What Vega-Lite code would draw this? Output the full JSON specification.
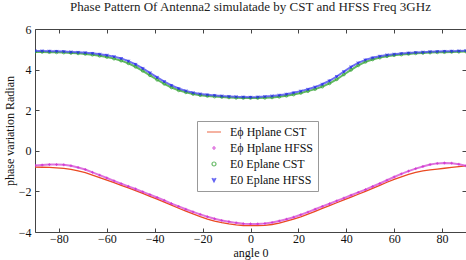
{
"$schema":"https://vega.github.io/schema/vega-lite/v6.json",
"width":431,"height":203,"autosize":"none",
"padding":{"left":35,"top":29,"right":0,"bottom":28},
"background":"white",
"title":{"text":"Phase Pattern Of  Antenna2 simulatade  by CST and HFSS Freq 3GHz","font":"Liberation Serif","fontSize":13,"fontWeight":"normal","color":"#222","offset":9},
"datasets":{
"hc":[{"a":-90,"v":-0.80},{"a":-87,"v":-0.81},{"a":-84,"v":-0.82},{"a":-81,"v":-0.84},{"a":-78,"v":-0.87},{"a":-75,"v":-0.92},{"a":-72,"v":-0.99},{"a":-69,"v":-1.08},{"a":-66,"v":-1.20},{"a":-63,"v":-1.32},{"a":-60,"v":-1.45},{"a":-57,"v":-1.57},{"a":-54,"v":-1.70},{"a":-51,"v":-1.83},{"a":-48,"v":-1.96},{"a":-45,"v":-2.10},{"a":-42,"v":-2.24},{"a":-39,"v":-2.38},{"a":-36,"v":-2.53},{"a":-33,"v":-2.68},{"a":-30,"v":-2.83},{"a":-27,"v":-2.97},{"a":-24,"v":-3.11},{"a":-21,"v":-3.24},{"a":-18,"v":-3.36},{"a":-15,"v":-3.46},{"a":-12,"v":-3.54},{"a":-9,"v":-3.60},{"a":-6,"v":-3.65},{"a":-3,"v":-3.68},{"a":0,"v":-3.69},{"a":3,"v":-3.69},{"a":6,"v":-3.67},{"a":9,"v":-3.63},{"a":12,"v":-3.56},{"a":15,"v":-3.47},{"a":18,"v":-3.37},{"a":21,"v":-3.25},{"a":24,"v":-3.12},{"a":27,"v":-2.98},{"a":30,"v":-2.84},{"a":33,"v":-2.70},{"a":36,"v":-2.56},{"a":39,"v":-2.42},{"a":42,"v":-2.28},{"a":45,"v":-2.14},{"a":48,"v":-2.00},{"a":51,"v":-1.85},{"a":54,"v":-1.70},{"a":57,"v":-1.55},{"a":60,"v":-1.41},{"a":63,"v":-1.28},{"a":66,"v":-1.16},{"a":69,"v":-1.06},{"a":72,"v":-0.99},{"a":75,"v":-0.94},{"a":78,"v":-0.90},{"a":81,"v":-0.86},{"a":84,"v":-0.82},{"a":87,"v":-0.78},{"a":90,"v":-0.74}],
"pts":[
{"s":"Eϕ Hplane HFSS","a":-90,"v":-0.72},{"s":"Eϕ Hplane HFSS","a":-87,"v":-0.70},{"s":"Eϕ Hplane HFSS","a":-84,"v":-0.68},{"s":"Eϕ Hplane HFSS","a":-81,"v":-0.68},{"s":"Eϕ Hplane HFSS","a":-78,"v":-0.69},{"s":"Eϕ Hplane HFSS","a":-75,"v":-0.74},{"s":"Eϕ Hplane HFSS","a":-72,"v":-0.82},{"s":"Eϕ Hplane HFSS","a":-69,"v":-0.92},{"s":"Eϕ Hplane HFSS","a":-66,"v":-1.06},{"s":"Eϕ Hplane HFSS","a":-63,"v":-1.20},{"s":"Eϕ Hplane HFSS","a":-60,"v":-1.34},{"s":"Eϕ Hplane HFSS","a":-57,"v":-1.48},{"s":"Eϕ Hplane HFSS","a":-54,"v":-1.62},{"s":"Eϕ Hplane HFSS","a":-51,"v":-1.75},{"s":"Eϕ Hplane HFSS","a":-48,"v":-1.88},{"s":"Eϕ Hplane HFSS","a":-45,"v":-2.02},{"s":"Eϕ Hplane HFSS","a":-42,"v":-2.16},{"s":"Eϕ Hplane HFSS","a":-39,"v":-2.30},{"s":"Eϕ Hplane HFSS","a":-36,"v":-2.44},{"s":"Eϕ Hplane HFSS","a":-33,"v":-2.60},{"s":"Eϕ Hplane HFSS","a":-30,"v":-2.74},{"s":"Eϕ Hplane HFSS","a":-27,"v":-2.88},{"s":"Eϕ Hplane HFSS","a":-24,"v":-3.01},{"s":"Eϕ Hplane HFSS","a":-21,"v":-3.13},{"s":"Eϕ Hplane HFSS","a":-18,"v":-3.25},{"s":"Eϕ Hplane HFSS","a":-15,"v":-3.35},{"s":"Eϕ Hplane HFSS","a":-12,"v":-3.43},{"s":"Eϕ Hplane HFSS","a":-9,"v":-3.49},{"s":"Eϕ Hplane HFSS","a":-6,"v":-3.55},{"s":"Eϕ Hplane HFSS","a":-3,"v":-3.59},{"s":"Eϕ Hplane HFSS","a":0,"v":-3.60},{"s":"Eϕ Hplane HFSS","a":3,"v":-3.60},{"s":"Eϕ Hplane HFSS","a":6,"v":-3.58},{"s":"Eϕ Hplane HFSS","a":9,"v":-3.53},{"s":"Eϕ Hplane HFSS","a":12,"v":-3.46},{"s":"Eϕ Hplane HFSS","a":15,"v":-3.37},{"s":"Eϕ Hplane HFSS","a":18,"v":-3.27},{"s":"Eϕ Hplane HFSS","a":21,"v":-3.15},{"s":"Eϕ Hplane HFSS","a":24,"v":-3.02},{"s":"Eϕ Hplane HFSS","a":27,"v":-2.88},{"s":"Eϕ Hplane HFSS","a":30,"v":-2.74},{"s":"Eϕ Hplane HFSS","a":33,"v":-2.61},{"s":"Eϕ Hplane HFSS","a":36,"v":-2.47},{"s":"Eϕ Hplane HFSS","a":39,"v":-2.33},{"s":"Eϕ Hplane HFSS","a":42,"v":-2.19},{"s":"Eϕ Hplane HFSS","a":45,"v":-2.05},{"s":"Eϕ Hplane HFSS","a":48,"v":-1.91},{"s":"Eϕ Hplane HFSS","a":51,"v":-1.76},{"s":"Eϕ Hplane HFSS","a":54,"v":-1.61},{"s":"Eϕ Hplane HFSS","a":57,"v":-1.45},{"s":"Eϕ Hplane HFSS","a":60,"v":-1.29},{"s":"Eϕ Hplane HFSS","a":63,"v":-1.14},{"s":"Eϕ Hplane HFSS","a":66,"v":-1.00},{"s":"Eϕ Hplane HFSS","a":69,"v":-0.88},{"s":"Eϕ Hplane HFSS","a":72,"v":-0.77},{"s":"Eϕ Hplane HFSS","a":75,"v":-0.68},{"s":"Eϕ Hplane HFSS","a":78,"v":-0.62},{"s":"Eϕ Hplane HFSS","a":81,"v":-0.60},{"s":"Eϕ Hplane HFSS","a":84,"v":-0.61},{"s":"Eϕ Hplane HFSS","a":87,"v":-0.66},{"s":"Eϕ Hplane HFSS","a":90,"v":-0.74},
{"s":"E0 Eplane CST","a":-90,"v":4.87},{"s":"E0 Eplane CST","a":-87,"v":4.87},{"s":"E0 Eplane CST","a":-84,"v":4.86},{"s":"E0 Eplane CST","a":-81,"v":4.85},{"s":"E0 Eplane CST","a":-78,"v":4.84},{"s":"E0 Eplane CST","a":-75,"v":4.82},{"s":"E0 Eplane CST","a":-72,"v":4.80},{"s":"E0 Eplane CST","a":-69,"v":4.77},{"s":"E0 Eplane CST","a":-66,"v":4.73},{"s":"E0 Eplane CST","a":-63,"v":4.68},{"s":"E0 Eplane CST","a":-60,"v":4.62},{"s":"E0 Eplane CST","a":-57,"v":4.54},{"s":"E0 Eplane CST","a":-54,"v":4.44},{"s":"E0 Eplane CST","a":-51,"v":4.31},{"s":"E0 Eplane CST","a":-48,"v":4.14},{"s":"E0 Eplane CST","a":-45,"v":3.94},{"s":"E0 Eplane CST","a":-42,"v":3.72},{"s":"E0 Eplane CST","a":-39,"v":3.50},{"s":"E0 Eplane CST","a":-36,"v":3.30},{"s":"E0 Eplane CST","a":-33,"v":3.12},{"s":"E0 Eplane CST","a":-30,"v":2.98},{"s":"E0 Eplane CST","a":-27,"v":2.88},{"s":"E0 Eplane CST","a":-24,"v":2.80},{"s":"E0 Eplane CST","a":-21,"v":2.74},{"s":"E0 Eplane CST","a":-18,"v":2.70},{"s":"E0 Eplane CST","a":-15,"v":2.67},{"s":"E0 Eplane CST","a":-12,"v":2.65},{"s":"E0 Eplane CST","a":-9,"v":2.63},{"s":"E0 Eplane CST","a":-6,"v":2.61},{"s":"E0 Eplane CST","a":-3,"v":2.60},{"s":"E0 Eplane CST","a":0,"v":2.60},{"s":"E0 Eplane CST","a":3,"v":2.60},{"s":"E0 Eplane CST","a":6,"v":2.61},{"s":"E0 Eplane CST","a":9,"v":2.63},{"s":"E0 Eplane CST","a":12,"v":2.66},{"s":"E0 Eplane CST","a":15,"v":2.71},{"s":"E0 Eplane CST","a":18,"v":2.77},{"s":"E0 Eplane CST","a":21,"v":2.85},{"s":"E0 Eplane CST","a":24,"v":2.94},{"s":"E0 Eplane CST","a":27,"v":3.04},{"s":"E0 Eplane CST","a":30,"v":3.16},{"s":"E0 Eplane CST","a":33,"v":3.32},{"s":"E0 Eplane CST","a":36,"v":3.52},{"s":"E0 Eplane CST","a":39,"v":3.76},{"s":"E0 Eplane CST","a":42,"v":3.99},{"s":"E0 Eplane CST","a":45,"v":4.21},{"s":"E0 Eplane CST","a":48,"v":4.38},{"s":"E0 Eplane CST","a":51,"v":4.50},{"s":"E0 Eplane CST","a":54,"v":4.59},{"s":"E0 Eplane CST","a":57,"v":4.66},{"s":"E0 Eplane CST","a":60,"v":4.71},{"s":"E0 Eplane CST","a":63,"v":4.74},{"s":"E0 Eplane CST","a":66,"v":4.77},{"s":"E0 Eplane CST","a":69,"v":4.80},{"s":"E0 Eplane CST","a":72,"v":4.82},{"s":"E0 Eplane CST","a":75,"v":4.84},{"s":"E0 Eplane CST","a":78,"v":4.85},{"s":"E0 Eplane CST","a":81,"v":4.86},{"s":"E0 Eplane CST","a":84,"v":4.87},{"s":"E0 Eplane CST","a":87,"v":4.88},{"s":"E0 Eplane CST","a":90,"v":4.89},
{"s":"E0 Eplane HFSS","a":-90,"v":4.92},{"s":"E0 Eplane HFSS","a":-87,"v":4.92},{"s":"E0 Eplane HFSS","a":-84,"v":4.91},{"s":"E0 Eplane HFSS","a":-81,"v":4.90},{"s":"E0 Eplane HFSS","a":-78,"v":4.89},{"s":"E0 Eplane HFSS","a":-75,"v":4.87},{"s":"E0 Eplane HFSS","a":-72,"v":4.85},{"s":"E0 Eplane HFSS","a":-69,"v":4.83},{"s":"E0 Eplane HFSS","a":-66,"v":4.80},{"s":"E0 Eplane HFSS","a":-63,"v":4.76},{"s":"E0 Eplane HFSS","a":-60,"v":4.71},{"s":"E0 Eplane HFSS","a":-57,"v":4.64},{"s":"E0 Eplane HFSS","a":-54,"v":4.55},{"s":"E0 Eplane HFSS","a":-51,"v":4.42},{"s":"E0 Eplane HFSS","a":-48,"v":4.26},{"s":"E0 Eplane HFSS","a":-45,"v":4.06},{"s":"E0 Eplane HFSS","a":-42,"v":3.84},{"s":"E0 Eplane HFSS","a":-39,"v":3.62},{"s":"E0 Eplane HFSS","a":-36,"v":3.41},{"s":"E0 Eplane HFSS","a":-33,"v":3.22},{"s":"E0 Eplane HFSS","a":-30,"v":3.07},{"s":"E0 Eplane HFSS","a":-27,"v":2.95},{"s":"E0 Eplane HFSS","a":-24,"v":2.86},{"s":"E0 Eplane HFSS","a":-21,"v":2.80},{"s":"E0 Eplane HFSS","a":-18,"v":2.76},{"s":"E0 Eplane HFSS","a":-15,"v":2.73},{"s":"E0 Eplane HFSS","a":-12,"v":2.70},{"s":"E0 Eplane HFSS","a":-9,"v":2.68},{"s":"E0 Eplane HFSS","a":-6,"v":2.66},{"s":"E0 Eplane HFSS","a":-3,"v":2.65},{"s":"E0 Eplane HFSS","a":0,"v":2.64},{"s":"E0 Eplane HFSS","a":3,"v":2.65},{"s":"E0 Eplane HFSS","a":6,"v":2.67},{"s":"E0 Eplane HFSS","a":9,"v":2.70},{"s":"E0 Eplane HFSS","a":12,"v":2.74},{"s":"E0 Eplane HFSS","a":15,"v":2.79},{"s":"E0 Eplane HFSS","a":18,"v":2.86},{"s":"E0 Eplane HFSS","a":21,"v":2.94},{"s":"E0 Eplane HFSS","a":24,"v":3.03},{"s":"E0 Eplane HFSS","a":27,"v":3.14},{"s":"E0 Eplane HFSS","a":30,"v":3.28},{"s":"E0 Eplane HFSS","a":33,"v":3.45},{"s":"E0 Eplane HFSS","a":36,"v":3.66},{"s":"E0 Eplane HFSS","a":39,"v":3.90},{"s":"E0 Eplane HFSS","a":42,"v":4.13},{"s":"E0 Eplane HFSS","a":45,"v":4.33},{"s":"E0 Eplane HFSS","a":48,"v":4.48},{"s":"E0 Eplane HFSS","a":51,"v":4.58},{"s":"E0 Eplane HFSS","a":54,"v":4.66},{"s":"E0 Eplane HFSS","a":57,"v":4.72},{"s":"E0 Eplane HFSS","a":60,"v":4.76},{"s":"E0 Eplane HFSS","a":63,"v":4.79},{"s":"E0 Eplane HFSS","a":66,"v":4.82},{"s":"E0 Eplane HFSS","a":69,"v":4.84},{"s":"E0 Eplane HFSS","a":72,"v":4.86},{"s":"E0 Eplane HFSS","a":75,"v":4.88},{"s":"E0 Eplane HFSS","a":78,"v":4.89},{"s":"E0 Eplane HFSS","a":81,"v":4.90},{"s":"E0 Eplane HFSS","a":84,"v":4.91},{"s":"E0 Eplane HFSS","a":87,"v":4.92},{"s":"E0 Eplane HFSS","a":90,"v":4.93}
]},
"layer":[
{"data":{"name":"hc"},"mark":{"type":"line","strokeWidth":1.3,"clip":true},
 "encoding":{
  "x":{"field":"a","type":"quantitative","scale":{"domain":[-90,90],"nice":false},
       "axis":{"values":[-80,-60,-40,-20,0,20,40,60,80],"title":"angle 0","orient":"bottom","labelPadding":5,"labelBaseline":"top","titlePadding":3,"titleBaseline":"top"}},
  "y":{"field":"v","type":"quantitative","scale":{"domain":[-4,6],"nice":false},
       "axis":{"values":[-4,-2,0,2,4,6],"title":"phase variation Radian","orient":"left"}},
  "color":{"datum":"Eϕ Hplane CST","type":"nominal"}
 }},
{"data":{"name":"pts"},"transform":[{"filter":"datum.s === 'Eϕ Hplane HFSS'"}],"mark":{"type":"line","strokeWidth":2,"color":"#d650d6","opacity":0.8,"clip":true},
 "encoding":{"x":{"field":"a","type":"quantitative","axis":null},"y":{"field":"v","type":"quantitative","axis":null}}},
{"data":{"name":"pts"},"transform":[{"filter":"datum.s === 'E0 Eplane CST'"}],"mark":{"type":"line","strokeWidth":2,"color":"#3aa83a","opacity":0.8,"clip":true},
 "encoding":{"x":{"field":"a","type":"quantitative","axis":null},"y":{"field":"v","type":"quantitative","axis":null}}},
{"data":{"name":"pts"},"transform":[{"filter":"datum.s === 'E0 Eplane HFSS'"}],"mark":{"type":"line","strokeWidth":2,"color":"#4a4af0","opacity":0.8,"clip":true},
 "encoding":{"x":{"field":"a","type":"quantitative","axis":null},"y":{"field":"v","type":"quantitative","axis":null}}},
{"data":{"name":"pts"},"mark":{"type":"point","filled":false,"size":8,"strokeWidth":1,"clip":true},
 "encoding":{
  "x":{"field":"a","type":"quantitative","axis":null},
  "y":{"field":"v","type":"quantitative","axis":null},
  "color":{"field":"s","type":"nominal","title":null,
     "scale":{"domain":["Eϕ Hplane CST","Eϕ Hplane HFSS","E0 Eplane CST","E0 Eplane HFSS"],"range":["#ea4a22","#cc22cc","#2ca02c","#2222ee"]}},
  "shape":{"field":"s","type":"nominal","title":null,
     "scale":{"domain":["Eϕ Hplane CST","Eϕ Hplane HFSS","E0 Eplane CST","E0 Eplane HFSS"],"range":["M-3.5,0L3.5,0","M-1,0L1,0M0,-1L0,1","circle","M-1,-1L0,1L1,-1M0,-1L0,1"]}}
 }},
{"data":{"name":"hc"},"mark":{"type":"point","opacity":0},
 "encoding":{
  "x":{"field":"a","type":"quantitative","axis":{"orient":"top","values":[-80,-60,-40,-20,0,20,40,60,80],"labels":false,"title":null}},
  "y":{"field":"v","type":"quantitative","axis":{"orient":"right","values":[-4,-2,0,2,4,6],"labels":false,"title":null}}
 }}
],
"resolve":{"axis":{"x":"independent","y":"independent"}},
"config":{
 "view":{"stroke":"#444","strokeWidth":1},
 "font":"Liberation Serif",
 "axis":{"domain":false,"grid":false,"tickSize":-4,"tickColor":"#444","labelFont":"Liberation Serif","labelFontSize":12,"labelColor":"#111","labelPadding":8,"titleFont":"Liberation Serif","titleFontSize":12,"titleFontWeight":"normal","titleColor":"#111"},
 "axisY":{"titlePadding":2},
 "legend":{"orient":"none","legendX":162,"legendY":92,"fillColor":"white","strokeColor":"#999","padding":5,"labelFont":"Liberation Serif","labelFontSize":12,"labelColor":"#111","symbolSize":16,"symbolStrokeWidth":1.2,"rowPadding":4,"labelOffset":10,"symbolOffset":6}
}
}
